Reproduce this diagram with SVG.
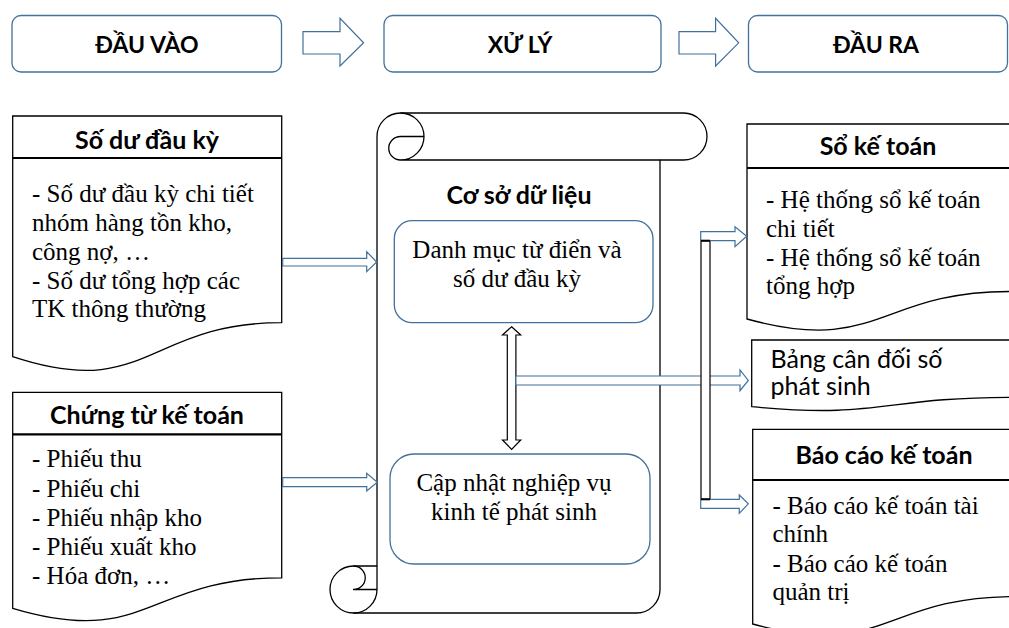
<svg xmlns="http://www.w3.org/2000/svg" width="1009" height="628" viewBox="0 0 1009 628">
<style>
.bg{fill:#fff}
.tb{fill:#fff;stroke:#41719C;stroke-width:1.3}
.doc{fill:#fff;stroke:#000;stroke-width:1.3}
.div{stroke:#000;stroke-width:2.2}
.scroll{fill:#fff;stroke:#000;stroke-width:1.3;stroke-linejoin:round}
.inner{fill:#fff;stroke:#41719C;stroke-width:1.3}
.barrow{fill:#fff;stroke:#41719C;stroke-width:1.2;stroke-linejoin:miter}
.karrow{fill:#fff;stroke:#000;stroke-width:1.2}
.hd{font-family:Lato,"Liberation Sans",sans-serif;font-weight:bold;font-size:25px;fill:#000;text-anchor:middle}
.th{font-family:Lato,"Liberation Sans",sans-serif;font-weight:bold;font-size:23px;fill:#000;text-anchor:middle}
.body{font-family:"Liberation Serif","Times New Roman",serif;font-size:25px;fill:#000}
.cal{font-family:Lato,"Liberation Sans",sans-serif;font-size:25px;fill:#000}
</style>
<rect class="bg" x="0" y="0" width="1009" height="628"/>

<g id="top-dau-vao">
<rect class="tb" x="12" y="15.5" width="269.5" height="56.5" rx="9"/>
<text class="th" x="147" y="52.5">ĐẦU VÀO</text>
</g>
<g id="top-xu-ly">
<rect class="tb" x="384" y="15.5" width="277" height="56.5" rx="9"/>
<text class="th" x="520" y="52.5">XỬ LÝ</text>
</g>
<g id="top-dau-ra">
<rect class="tb" x="748.5" y="15.5" width="259" height="56.5" rx="9"/>
<text class="th" x="876" y="52.5">ĐẦU RA</text>
</g>

<g id="doc-so-du">
<path class="doc" d="M12.7,116 L281.7,116 L281.7,322.7 C147.2,322.7 147.2,401.4 12.7,356.7 Z"/>
<line class="div" x1="12.7" y1="158" x2="281.7" y2="158"/>
<text class="hd" x="147" y="149">Số dư đầu kỳ</text>
<text class="body" x="32" y="202">- Số dư đầu kỳ chi tiết</text>
<text class="body" x="32" y="231">nhóm hàng tồn kho,</text>
<text class="body" x="32" y="260">công nợ, …</text>
<text class="body" x="32" y="289">- Số dư tổng hợp các</text>
<text class="body" x="32" y="317">TK thông thường</text>
</g>

<g id="doc-chung-tu">
<path class="doc" d="M12.7,392.3 L281.7,392.3 L281.7,577.8 C147.2,577.8 147.2,648.5 12.7,608.3 Z"/>
<line class="div" x1="12.7" y1="434.3" x2="281.7" y2="434.3"/>
<text class="hd" x="147" y="424">Chứng từ kế toán</text>
<text class="body" x="32" y="467">- Phiếu thu</text>
<text class="body" x="32" y="496.5">- Phiếu chi</text>
<text class="body" x="32" y="526">- Phiếu nhập kho</text>
<text class="body" x="32" y="555">- Phiếu xuất kho</text>
<text class="body" x="32" y="583.5">- Hóa đơn, …</text>
</g>

<g id="scroll-csdl">
<path class="scroll" d="M377,566 L377,136.5 A23.5,23.5 0 0 1 400.5,113 L683.5,113 A23.5,23.5 0 0 1 683.5,160 L660,160 L660,589.5 A23.5,23.5 0 0 1 636.5,613 L353.5,613 A23.5,23.5 0 0 1 353.5,566 Z"/>
<path class="scroll" d="M400.5,113 A23.5,23.5 0 0 1 400.5,160 A11.75,11.75 0 0 1 400.5,136.5 L424,136.5 M660,160 L400.5,160 M353.5,566 A11.75,11.75 0 0 1 353.5,589.5 L377,589.5 M353.5,613 A23.5,23.5 0 0 0 377,589.5 L377,566" style="fill:none"/>
<text class="hd" x="519" y="204">Cơ sở dữ liệu</text>
</g>

<g id="box-danh-muc">
<rect class="inner" x="394.3" y="220.7" width="258.7" height="102" rx="18"/>
<text class="body" x="517" y="257.5" text-anchor="middle">Danh mục từ điển và</text>
<text class="body" x="517" y="287" text-anchor="middle">số dư đầu kỳ</text>
</g>

<g id="box-cap-nhat">
<rect class="inner" x="390" y="454" width="260" height="110" rx="24"/>
<text class="body" x="514" y="490.5" text-anchor="middle">Cập nhật nghiệp vụ</text>
<text class="body" x="514" y="520" text-anchor="middle">kinh tế phát sinh</text>
</g>

<g id="doc-so-ke-toan">
<path class="doc" d="M747,124 L1010,124 L1010,291.5 C878.5,291.5 878.5,355.2 747,319 Z"/>
<line class="div" x1="747" y1="168" x2="1010" y2="168"/>
<text class="hd" x="878" y="155">Sổ kế toán</text>
<text class="body" x="766" y="207.5">- Hệ thống sổ kế toán</text>
<text class="body" x="766" y="236.5">chi tiết</text>
<text class="body" x="766" y="265.5">- Hệ thống sổ kế toán</text>
<text class="body" x="766" y="293.5">tổng hợp</text>
</g>

<g id="doc-bang-can-doi">
<path class="doc" d="M751.7,340 L1012,340 L1012,397.3 C881.8,397.3 881.8,419.1 751.7,406.7 Z"/>
<text class="cal" x="770.5" y="367.5">Bảng cân đối số</text>
<text class="cal" x="770.5" y="395">phát sinh</text>
</g>

<g id="doc-bao-cao">
<path class="doc" d="M752.7,429.3 L1015,429.3 L1015,596.5 C883.8,596.5 883.8,660.2 752.7,624 Z"/>
<line class="div" x1="752.7" y1="480" x2="1015" y2="480"/>
<text class="hd" x="884" y="464">Báo cáo kế toán</text>
<text class="body" x="772.5" y="513.5">- Báo cáo kế toán tài</text>
<text class="body" x="772.5" y="541.5">chính</text>
<text class="body" x="772.5" y="571.5">- Báo cáo kế toán</text>
<text class="body" x="772.5" y="600">quản trị</text>
</g>

<g id="connectors">
<path class="barrow" d="M303,31.7 L340,31.7 L340,18.3 L363.6,42.8 L340,66 L340,54 L303,54 Z"/>
<path class="barrow" d="M679,31.7 L715.6,31.7 L715.6,18.3 L738.7,42.8 L715.6,66 L715.6,54 L679,54 Z"/>
<path class="barrow" d="M282.7,258.3 L366.7,258.3 L366.7,251.7 L376.7,262 L366.7,271.7 L366.7,266 L282.7,266 Z"/>
<path class="barrow" d="M282.7,477.7 L366.7,477.7 L366.7,473.3 L377.3,482.2 L366.7,491 L366.7,486.7 L282.7,486.7 Z"/>
<path class="karrow" d="M511.6,326.7 L520.7,335 L515.9,335 L515.9,440 L520.7,440 L511.6,449.3 L502.5,440 L507.3,440 L507.3,335 L502.5,335 Z"/>
<path class="barrow" d="M515.9,376 L740,376 L740,370 L748.3,380.5 L740,390.7 L740,385 L515.9,385 Z"/>
<rect class="karrow" x="701" y="240.7" width="9" height="258.6"/>
<path class="barrow" d="M700.7,231.7 L735,231.7 L735,226.7 L746.7,236.2 L735,246.7 L735,240.7 L700.7,240.7 Z"/>
<path class="barrow" d="M700.7,499.3 L739.3,499.3 L739.3,495 L748.3,503.8 L739.3,513.3 L739.3,508.3 L700.7,508.3 Z"/>
<line x1="701" y1="240.7" x2="710" y2="240.7" stroke="#000" stroke-width="2"/>
<line x1="701" y1="499.3" x2="710" y2="499.3" stroke="#000" stroke-width="2"/>
</g>
</svg>
